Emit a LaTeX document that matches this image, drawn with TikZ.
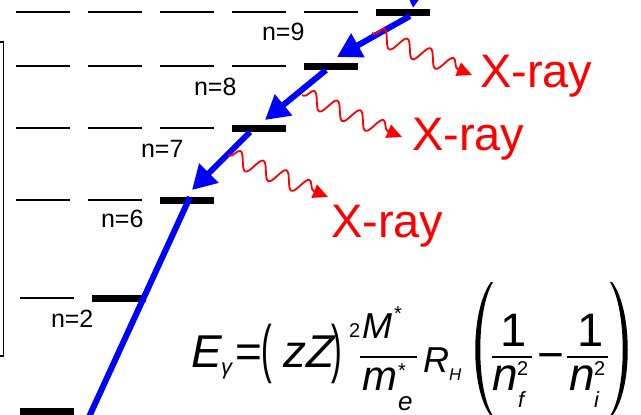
\documentclass[tikz,border=0pt]{standalone}
\usepackage{fontspec}
\setmainfont{Liberation Sans}
\usetikzlibrary{arrows.meta,decorations.pathmorphing}
\newcommand\fsz[1]{\fontsize{#1}{#1}\selectfont}
\begin{document}
\begin{tikzpicture}[x=1pt,y=-1pt,
  lvl/.style={line width=1.3pt,black},
  lvlbar/.style={line width=7pt,black},
  trans/.style={line width=6pt,blue,-{Triangle[width=26pt,length=24pt]}},
  xray/.style={red,line width=1.8pt,decorate,decoration={snake,segment length=25pt,amplitude=8.5pt,pre length=2pt,post length=12pt},-{Triangle[width=14pt,length=15pt]}},
  xlab/.style={red,font=\fsz{47},anchor=base west,inner sep=0pt,outer sep=0pt},
  nlab/.style={font=\fsz{25},anchor=base west,inner sep=0pt,outer sep=0pt},
  eq/.style={anchor=base west,inner sep=0pt,outer sep=0pt},
  fbar/.style={line width=2pt,black},
]
\useasboundingbox (0,0) rectangle (641,415);
\clip (0,0) rectangle (641,415);

% bracket
\draw[line width=1.3pt] (0,42) -- (3.5,42) -- (3.5,356) -- (0,356);

% thin level dashes
\draw[lvl] (16,12) -- ++(54,0);  \draw[lvl] (88,12) -- ++(54,0);
\draw[lvl] (160,12) -- ++(54,0); \draw[lvl] (232,12) -- ++(54,0);
\draw[lvl] (304,12) -- ++(54,0);
\draw[lvl] (16,66) -- ++(54,0);  \draw[lvl] (88,66) -- ++(54,0);
\draw[lvl] (160,66) -- ++(54,0); \draw[lvl] (232,66) -- ++(54,0);
\draw[lvl] (16,128) -- ++(54,0); \draw[lvl] (88,128) -- ++(54,0);
\draw[lvl] (160,128) -- ++(54,0);
\draw[lvl] (16,200) -- ++(54,0); \draw[lvl] (88,200) -- ++(54,0);
\draw[lvl] (20,298) -- ++(54,0);

% occupied levels (thick bars)
\draw[lvlbar] (376,12) -- (430,12);
\draw[lvlbar] (304,66) -- (358,66);
\draw[lvlbar] (232,128) -- (286,128);
\draw[lvlbar] (160,200) -- (214,200);
\draw[lvlbar] (92,298) -- (146,298);
\draw[lvlbar] (20,411) -- (74,411);

% level labels
\node[nlab] (n9) at (262,40) {n=9};
\node[nlab] (n8) at (194,95) {n=8};
\node[nlab] (n7) at (141,157) {n=7};
\node[nlab] (n6) at (101,227) {n=6};
\node[nlab] (n2) at (51,327) {n=2};

% cascade (blue)
\coordinate (s0) at (420,-60); \coordinate (t0) at (413,8);
\coordinate (s1) at (410,16);  \coordinate (t1) at (337,57);
\coordinate (s2) at (326,70);  \coordinate (t2) at (265,120);
\coordinate (s3) at (250,132); \coordinate (t3) at (192,190);
\coordinate (s4) at (190,197); \coordinate (t4) at (83,430);
\draw[trans] (s0) -- (t0);
\draw[trans] (s1) -- (t1);
\draw[trans] (s2) -- (t2);
\draw[trans] (s3) -- (t3);
\draw[line width=6pt,blue] (s4) -- (t4);

% X-rays (red)
\coordinate (r1s) at (372,33);  \coordinate (r1t) at (472,75);
\coordinate (r2s) at (302,95);  \coordinate (r2t) at (402,137);
\coordinate (r3s) at (228,155); \coordinate (r3t) at (328,197);
\draw[xray] (r1s) -- (r1t);
\draw[xray] (r2s) -- (r2t);
\draw[xray] (r3s) -- (r3t);
\node[xlab] (x1) at (480,87) {X-ray};
\node[xlab] (x2) at (412,150) {X-ray};
\node[xlab] (x3) at (331,237) {X-ray};

% equation
\node[eq] (eE) at (191,367) {\fsz{46}\itshape E};
\node[eq] (eg) at (221,374) {\fsz{22}\itshape γ};
\node[eq] (eeq) at (235,367) {\fsz{46}=};
\node[eq] (elp) at (261,370) {\scalebox{0.5}[1]{\fsz{64}(}};
\node[eq] (ezZ) at (283,367) {\fsz{46}\itshape zZ};
\node[eq] (erp) at (331,370) {\scalebox{0.5}[1]{\fsz{64})}};
\node[eq] (esq) at (349,337) {\fsz{20}2};
\node[eq] (eM) at (362,338) {\fsz{36}\itshape M};
\node[eq] (eMs) at (394,320) {\fsz{20}*};
\draw[fbar] (360,357) -- (417,357);
\node[eq] (em) at (362,390) {\fsz{42}\itshape m};
\node[eq] (ee) at (398,410) {\fsz{26}\itshape e};
\node[eq] (ems) at (398,377) {\fsz{20}*};
\node[eq] (eR) at (423,372) {\fsz{36}\itshape R};
\node[eq] (eH) at (449,380) {\fsz{17}\itshape H};
% big parentheses
\fill (491,282) .. controls (470,310) and (470,390) .. (491,416) -- (493,416) .. controls (476,390) and (476,310) .. (493,282) -- cycle;
\fill (612,282) .. controls (633,310) and (633,390) .. (612,416) -- (610,416) .. controls (627,390) and (627,310) .. (610,282) -- cycle;
\node[eq] (e1a) at (500,346) {\fsz{47}1};
\draw[fbar] (492,357) -- (532,357);
\node[eq] (en1) at (492,390) {\fsz{46}\itshape n};
\node[eq] (es1) at (517,375) {\fsz{20}2};
\node[eq] (ef) at (518,407) {\fsz{22}\itshape f};
\node[eq] (emin) at (537,370) {\fsz{46}−};
\node[eq] (e1b) at (577,346) {\fsz{47}1};
\draw[fbar] (567,357) -- (608,357);
\node[eq] (en2) at (569,390) {\fsz{46}\itshape n};
\node[eq] (es2) at (594,375) {\fsz{20}2};
\node[eq] (ei) at (594,407) {\fsz{22}\itshape i};
\end{tikzpicture}
\end{document}
